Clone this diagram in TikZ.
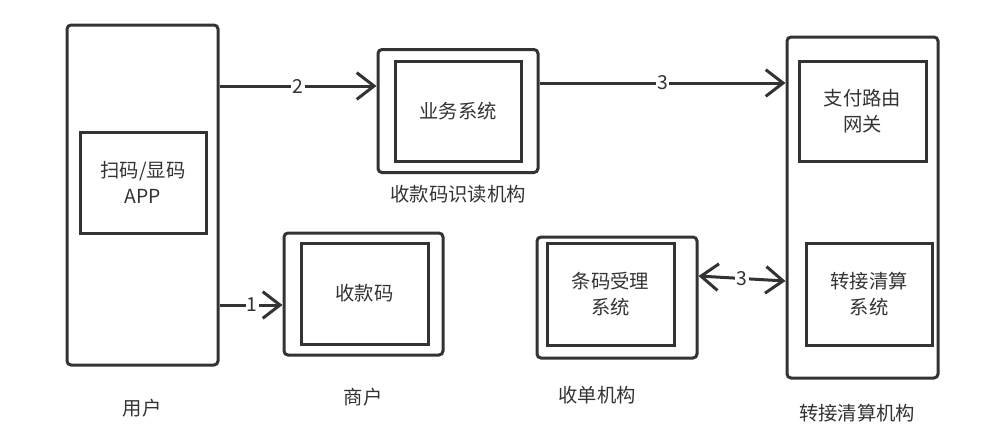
\documentclass[tikz,border=0pt]{standalone}
\usepackage{fontspec}
\setmainfont{Noto Sans CJK SC}
\usepackage{xcolor}
\usepackage{tikz}
\usetikzlibrary{arrows.meta, positioning, calc}

\definecolor{inkgray}{HTML}{333333}

\begin{document}
\begin{tikzpicture}[
    x=0.75pt, y=-0.75pt,
    boxsize/.style 2 args={
        minimum width=#1*0.75pt,
        minimum height=#2*0.75pt
    },
    outerbox/.style={
        rectangle,
        draw=inkgray,
        line width=2.25pt,
        rounded corners=3pt,
        inner sep=0pt
    },
    innerbox/.style={
        rectangle,
        draw=inkgray,
        line width=2.25pt,
        inner sep=0pt,
        align=center,
        text=inkgray,
        font=\fontsize{14.5}{19}\selectfont
    },
    caption/.style={
        text=inkgray,
        font=\fontsize{14.5}{19}\selectfont
    },
    numlabel/.style={
        fill=white,
        inner sep=1pt,
        text=inkgray,
        font=\fontsize{14.5}{19}\selectfont
    },
    arrow/.style={-{Straight Barb[length=13pt, width=20pt]}, line width=2.25pt, draw=inkgray},
    twoway/.style={{Straight Barb[length=13pt, width=20pt]}-{Straight Barb[length=13pt, width=20pt]}, line width=2.25pt, draw=inkgray}
]
    \useasboundingbox (0,0) rectangle (1004,444);

    % Outer frames of the parties
    \node [outerbox, boxsize={151}{340}] (user) at (142.5,195) {};
    \node [outerbox, boxsize={160}{123}] (reader) at (458,111) {};
    \node [outerbox, boxsize={159}{122}] (merchant) at (363.5,294) {};
    \node [outerbox, boxsize={160}{121}] (acquirer) at (617,297.5) {};
    \node [outerbox, boxsize={151}{341}] (clearing) at (862.5,207.5) {};

    % Inner systems
    \node [innerbox, boxsize={126}{101}] (app) at (143,182.5) {扫码/显码\\APP};
    \node [innerbox, boxsize={126}{100}] (bizsys) at (458,111) {业务系统};
    \node [innerbox, boxsize={127}{101}] (paycode) at (364.5,293.5) {收款码};
    \node [innerbox, boxsize={127}{102}] (acqsys) at (610.5,294) {条码受理\\系统};
    \node [innerbox, boxsize={127}{100}] (gateway) at (862.5,111) {支付路由\\网关};
    \node [innerbox, boxsize={126}{102}] (clrsys) at (869,294) {转接清算\\系统};

    % Captions under the frames
    \node [caption] (usercap) at (142,408) {用户};
    \node [caption] (readercap) at (458,194) {收款码识读机构};
    \node [caption] (merchantcap) at (363,397) {商户};
    \node [caption] (acquirercap) at (597,395) {收单机构};
    \node [caption] (clearingcap) at (857,413) {转接清算机构};

    % Numbered flows
    \draw [arrow] (user.east |- 0,305) -- (merchant.west |- 0,305)
        node[numlabel, pos=0.52] {1};
    \draw [arrow] (user.east |- 0,86) -- (reader.west |- 0,86)
        node[numlabel, pos=0.5] {2};
    \draw [arrow] (reader.east |- 0,83) -- (clearing.west |- 0,83)
        node[numlabel, pos=0.5] {3};
    \draw [twoway] (acquirer.east |- 0,276) -- (clearing.west |- 0,281)
        node[numlabel, pos=0.5] {3};

\end{tikzpicture}
\end{document}
